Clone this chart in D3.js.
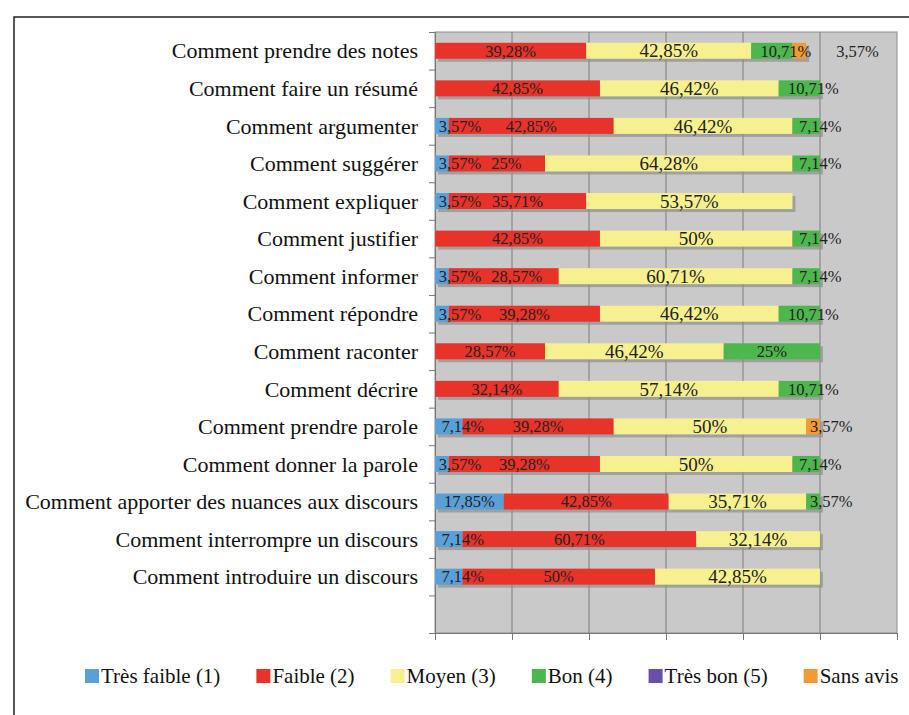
<!DOCTYPE html>
<html>
<head>
<meta charset="utf-8">
<script src="https://cdn.jsdelivr.net/npm/d3@7"></script>
<style>
  body { margin: 0; background: #fff; }
</style>
</head>
<body>
<div class="chart"></div>
<script>
var w = 909;
var h = 715;
var plot = {left: 435, right: 897, top: 32, bottom: 633};
var serif = "'Liberation Serif', serif";

var categories = ["Comment prendre des notes", "Comment faire un résumé", "Comment argumenter",
  "Comment suggérer", "Comment expliquer", "Comment justifier", "Comment informer",
  "Comment répondre", "Comment raconter", "Comment décrire", "Comment prendre parole",
  "Comment donner la parole", "Comment apporter des nuances aux discours",
  "Comment interrompre un discours", "Comment introduire un discours"];

var seriesNames = ["Très faible (1)", "Faible (2)", "Moyen (3)", "Bon (4)", "Très bon (5)", "Sans avis"];
var colors = ["#5b9fd8", "#e8332a", "#f6f08e", "#4db74d", "#6a4fa8", "#f29b33"];

// values per series, same order as categories
var tresFaible = [0, 0, 3.57, 3.57, 3.57, 0, 3.57, 3.57, 0, 0, 7.14, 3.57, 17.85, 7.14, 7.14];
var faible     = [39.28, 42.85, 42.85, 25, 35.71, 42.85, 28.57, 39.28, 28.57, 32.14, 39.28, 39.28, 42.85, 60.71, 50];
var moyen      = [42.85, 46.42, 46.42, 64.28, 53.57, 50, 60.71, 46.42, 46.42, 57.14, 50, 50, 35.71, 32.14, 42.85];
var bon        = [10.71, 10.71, 7.14, 7.14, 0, 7.14, 7.14, 10.71, 25, 10.71, 0, 7.14, 3.57, 0, 0];
var tresBon    = [0, 0, 0, 0, 0, 0, 0, 0, 0, 0, 0, 0, 0, 0, 0];
var sansAvis   = [3.57, 0, 0, 0, 0, 0, 0, 0, 0, 0, 3.57, 0, 0, 0, 0];

var xTicks = [0, 20, 40, 60, 80, 100, 120];

var series = [tresFaible, faible, moyen, bon, tresBon, sansAvis];

var svg = d3.select(".chart")
            .append("svg")
            .attr("width", w)
            .attr("height", h);

// frame
svg.append("rect")
   .attr("x", 14).attr("y", 17)
   .attr("width", w + 20).attr("height", h)
   .attr("fill", "#fff")
   .attr("stroke", "#222")
   .attr("stroke-width", 1.5);

// scales
var xScale = d3.scaleLinear()
    .domain([0, 120])
    .range([plot.left, plot.right]);

var rows = d3.range(categories.length + 1);
var yScale = d3.scaleBand()
    .domain(rows)
    .range([plot.top, plot.bottom]);

var yLin = d3.scaleLinear()
    .domain([0, rows.length])
    .range([plot.top, plot.bottom]);

// plot background
svg.append("rect")
   .attr("x", plot.left).attr("y", plot.top)
   .attr("width", plot.right - plot.left).attr("height", plot.bottom - plot.top)
   .attr("fill", "#c9c9c9")
   .attr("stroke", "#8c8c8c");

// grid
svg.selectAll(".grid")
   .data(xTicks.slice(1, -1))
   .enter()
   .append("line")
   .attr("x1", (d) => xScale(d)).attr("x2", (d) => xScale(d))
   .attr("y1", plot.top).attr("y2", plot.bottom)
   .attr("stroke", "#7c7c7c")
   .attr("stroke-width", 1);

// axes
var gx = svg.append("g")
   .attr("transform", "translate(0," + plot.bottom + ")")
   .call(d3.axisBottom(xScale).tickValues(xTicks).tickSize(7).tickFormat(""));
var gy = svg.append("g")
   .attr("transform", "translate(" + plot.left + ",0)")
   .call(d3.axisLeft(yLin).tickValues(d3.range(rows.length + 1)).tickSize(6).tickFormat(""));
gx.selectAll("path, line").attr("stroke", "#777");
gy.selectAll("path, line").attr("stroke", "#777");

// category labels
svg.selectAll(".catLabel")
   .data(categories)
   .enter()
   .append("text")
   .attr("class", "catLabel")
   .attr("x", 418)
   .attr("y", (d, i) => yScale(i) + yScale.bandwidth() / 2)
   .attr("dy", "0.35em")
   .attr("text-anchor", "end")
   .style("font-family", serif)
   .attr("font-size", 22)
   .attr("fill", "#111")
   .text((d) => d);

var barH = 16;

// stacked segments per row
var stackData = categories.map(function (c, i) {
  var acc = 0;
  return series.map(function (s, k) {
    var seg = {row: i, k: k, v: s[i], x0: acc, x1: acc + s[i]};
    acc += s[i];
    return seg;
  }).filter((d) => d.v > 0);
});

var rowG = svg.selectAll(".row")
   .data(stackData)
   .enter()
   .append("g")
   .attr("class", "row")
   .attr("transform", (d, i) => "translate(0," + (yScale(i) + yScale.bandwidth() / 2 - barH / 2) + ")");

// shadow
rowG.append("rect")
   .attr("x", xScale(0) + 3)
   .attr("y", 3)
   .attr("width", (d) => xScale(d[d.length - 1].x1) - xScale(0))
   .attr("height", barH)
   .attr("fill", "#8f8f8f")
   .attr("opacity", 0.7);

rowG.selectAll(".seg")
   .data((d) => d)
   .enter()
   .append("rect")
   .attr("x", (d) => xScale(d.x0))
   .attr("y", 0)
   .attr("width", (d) => xScale(d.x1) - xScale(d.x0))
   .attr("height", barH)
   .attr("fill", (d) => colors[d.k]);

// data labels
rowG.each(function (segs) {
  var g = d3.select(this);
  var prevEnd = -Infinity;
  var barEnd = xScale(segs[segs.length - 1].x1);
  segs.forEach(function (d, j) {
    var t = g.append("text")
      .attr("y", barH / 2)
      .attr("dy", "0.35em")
      .style("font-family", serif)
      .attr("font-size", d.k === 2 ? 19 : 16.5)
      .attr("fill", "#222")
      .text(String(d.v).replace(".", ",") + "%");
    var tw = t.node().getComputedTextLength();
    var s0 = xScale(d.x0), s1 = xScale(d.x1), sw = s1 - s0;
    var start = (tw + 2 <= sw) ? (s0 + s1) / 2 - tw / 2 : s0 + sw * 0.2 + 1;
    if (start < prevEnd + 4) {
      start = (j === segs.length - 1) ? barEnd + 30 : prevEnd + 10;
    }
    t.attr("x", start);
    prevEnd = start + tw;
  });
});

// legend
var legend = svg.append("g").attr("transform", "translate(85,676)");
var lx = 0;
seriesNames.forEach(function (name, k) {
  legend.append("rect")
    .attr("x", lx).attr("y", -7)
    .attr("width", 14).attr("height", 14)
    .attr("fill", colors[k]);
  var t = legend.append("text")
    .attr("x", lx + 16)
    .attr("dy", "0.35em")
    .style("font-family", serif)
    .attr("font-size", 21)
    .attr("fill", "#111")
    .text(name);
  lx += 16 + t.node().getComputedTextLength() + 36;
});
</script>
</body>
</html>
